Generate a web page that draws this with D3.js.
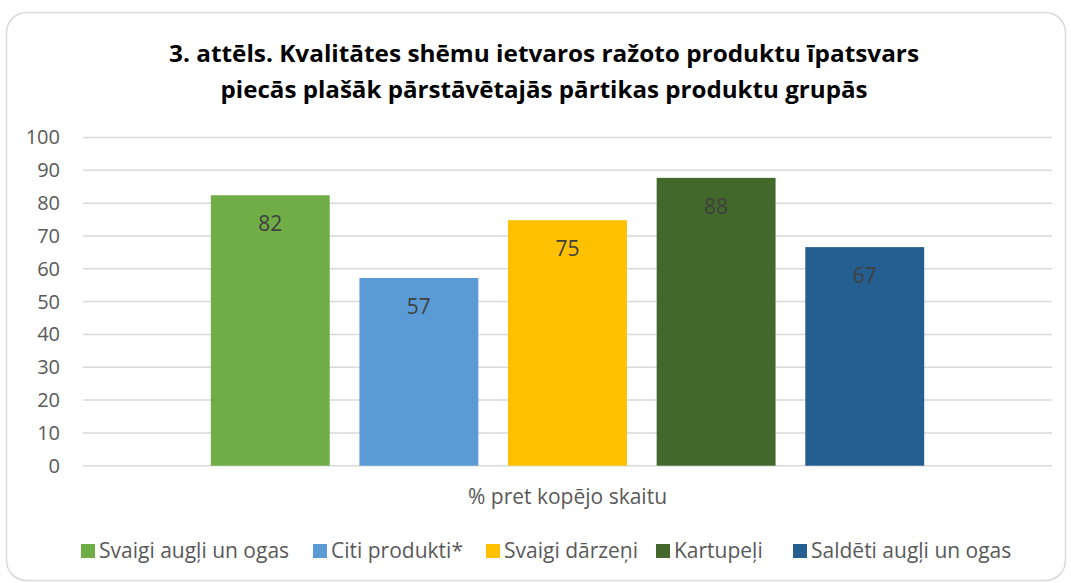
<!DOCTYPE html>
<html>
<head>
<meta charset="utf-8">
<script src="https://cdn.jsdelivr.net/npm/d3@7"></script>
<style>
  body { margin: 0; background: #fff; }
  svg text { font-family: "Open Sans", "Noto Sans", sans-serif; }
</style>
</head>
<body>
<div id="chart"></div>
<script>
// données
const titleLines = [
  "3. attēls. Kvalitātes shēmu ietvaros ražoto produktu īpatsvars",
  "piecās plašāk pārstāvētajās pārtikas produktu grupās"
];
const category = "% pret kopējo skaitu";
const series = ["Svaigi augļi un ogas", "Citi produkti*", "Svaigi dārzeņi", "Kartupeļi", "Saldēti augļi un ogas"];
const values = [82.4, 57.2, 74.8, 87.7, 66.6];
const colors = ["#70ad47", "#5b9bd5", "#ffc000", "#43682b", "#255e91"];
const yTicks = [0, 10, 20, 30, 40, 50, 60, 70, 80, 90, 100];

const W = 1071, H = 583;
const svg = d3.select("#chart").append("svg")
  .attr("width", W).attr("height", H);

// cadre arrondi
svg.append("rect")
  .attr("x", 6.5).attr("y", 12.5)
  .attr("width", 1059).attr("height", 568)
  .attr("rx", 20).attr("ry", 20)
  .attr("fill", "#fff")
  .attr("stroke", "#d9d9d9").attr("stroke-width", 1.5);

// titre
svg.append("g").selectAll("text")
  .data(titleLines)
  .join("text")
  .attr("x", 544)
  .attr("y", (d, i) => 62 + i * 36)
  .attr("text-anchor", "middle")
  .attr("font-size", 23)
  .attr("font-weight", "bold")
  .attr("fill", "#000")
  .attr("textLength", (d, i) => i === 0 ? 750 : 647)
  .attr("lengthAdjust", "spacingAndGlyphs")
  .text(d => d);

const plotL = 83, plotR = 1052, plotT = 137.5, plotB = 465.7;

const y = d3.scaleLinear().domain([0, 100]).range([plotB, plotT]);
const x0 = d3.scaleBand().domain([category]).range([plotL, plotR]);
const x1 = d3.scaleBand().domain(series)
  .range([x0(category), x0(category) + x0.bandwidth()])
  .paddingInner(0.2).paddingOuter(0.86);

// grille
svg.append("g").selectAll("line")
  .data(yTicks)
  .join("line")
  .attr("x1", plotL).attr("x2", plotR)
  .attr("y1", d => y(d)).attr("y2", d => y(d))
  .attr("stroke", "#d9d9d9").attr("stroke-width", 1.5);

// axe Y
const axeY = d3.axisLeft(y).tickValues(yTicks).tickSize(0).tickPadding(0);
const gY = svg.append("g")
  .attr("transform", "translate(60,0)")
  .call(axeY);
gY.select(".domain").remove();
gY.selectAll("text")
  .attr("font-size", 20)
  .attr("fill", "#595959")
  .style("font-family", "'Open Sans', sans-serif");

// barres
const data = series.map((s, i) => ({ name: s, value: values[i], color: colors[i] }));
svg.append("g").selectAll("rect")
  .data(data)
  .join("rect")
  .attr("x", d => x1(d.name))
  .attr("y", d => y(d.value))
  .attr("width", x1.bandwidth())
  .attr("height", d => y(0) - y(d.value))
  .attr("fill", d => d.color);

// étiquettes de valeur
svg.append("g").selectAll("text")
  .data(data)
  .join("text")
  .attr("x", d => x1(d.name) + x1.bandwidth() / 2)
  .attr("y", d => y(d.value) + 36)
  .attr("text-anchor", "middle")
  .attr("font-size", 21)
  .attr("fill", "#404040")
  .text(d => Math.round(d.value));

// axe X (titre de catégorie)
const axeX = d3.axisBottom(x0).tickSize(0).tickPadding(0);
const gX = svg.append("g")
  .attr("transform", "translate(0,504)")
  .call(axeX);
gX.select(".domain").remove();
gX.selectAll("text")
  .attr("dy", 0)
  .attr("font-size", 21)
  .attr("fill", "#595959")
  .style("font-family", "'Open Sans', sans-serif");

// légende
const legendX = [81, 313, 486, 656, 793];
const legend = svg.append("g").selectAll("g")
  .data(data)
  .join("g")
  .attr("transform", (d, i) => `translate(${legendX[i]},544)`);
legend.append("rect")
  .attr("width", 14).attr("height", 14)
  .attr("fill", d => d.color);
legend.append("text")
  .attr("x", 18).attr("y", 13.5)
  .attr("font-size", 21)
  .attr("fill", "#595959")
  .text(d => d.name);
</script>
</body>
</html>
